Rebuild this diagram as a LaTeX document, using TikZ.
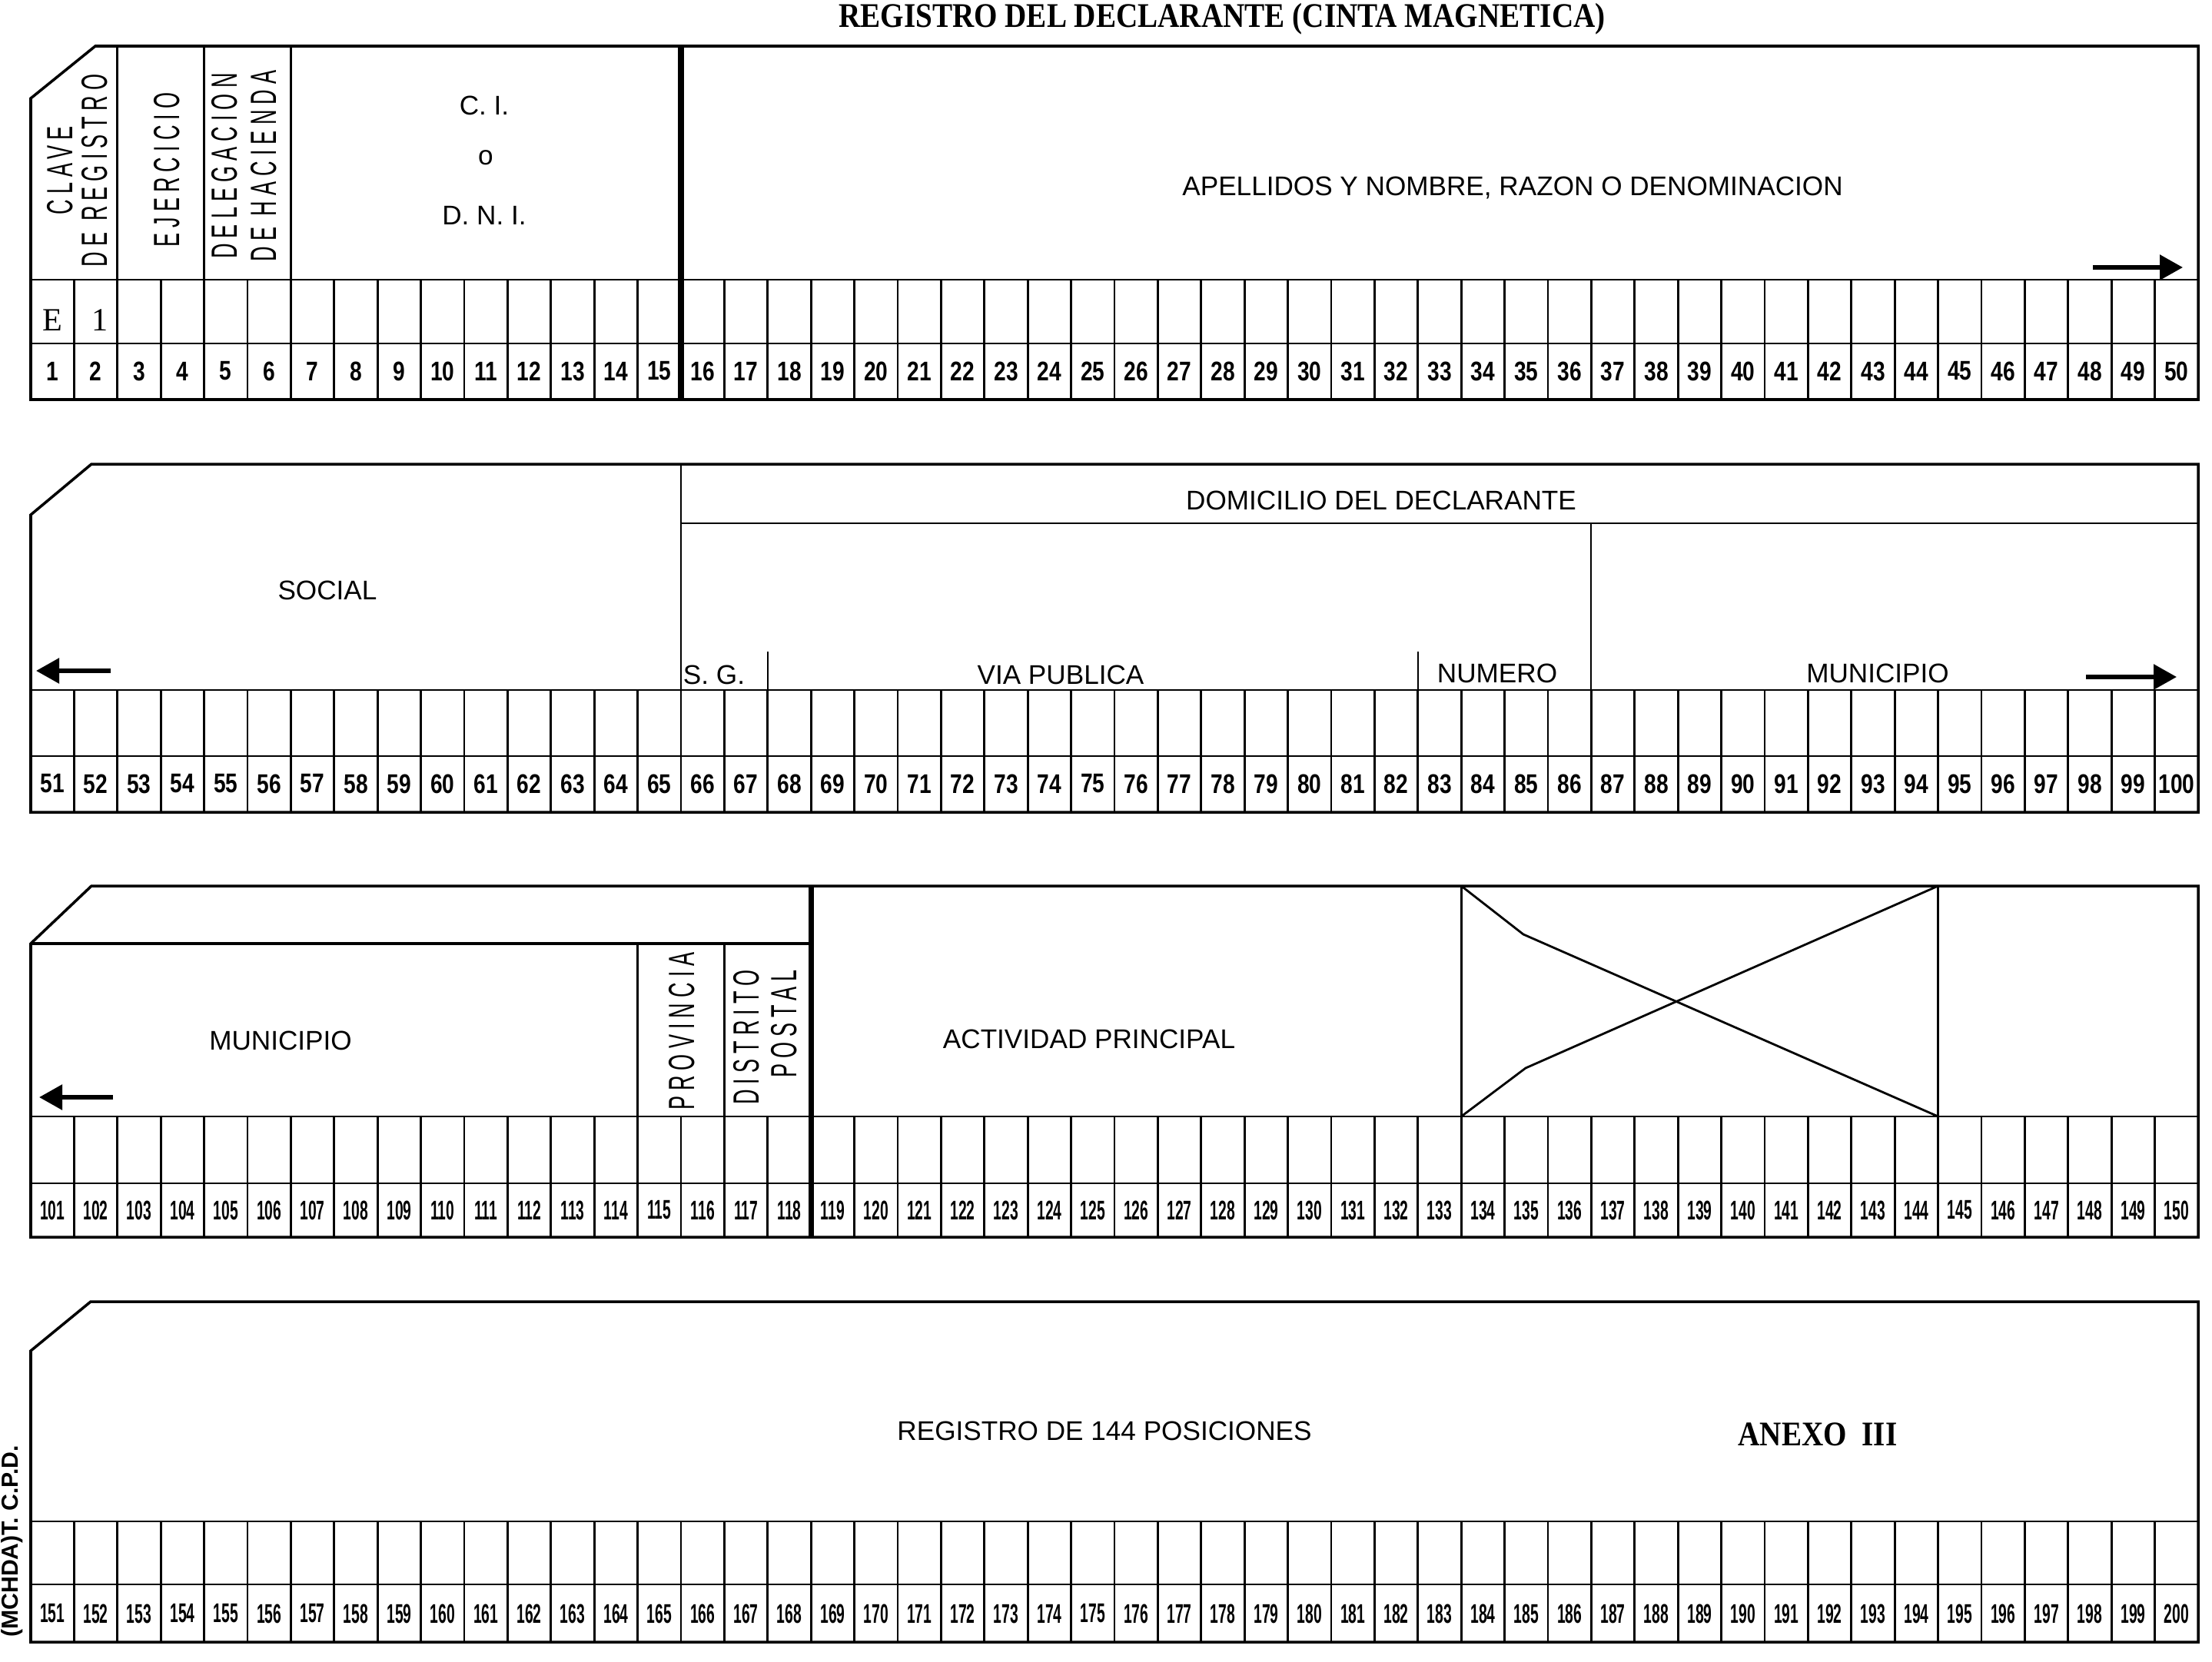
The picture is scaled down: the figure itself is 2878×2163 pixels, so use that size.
\documentclass[tikz,border=0pt]{standalone}
\usepackage{fontspec}
\setmainfont{Liberation Sans}
\newfontfamily\titlefont{Liberation Serif Bold}[FakeStretch=0.87]
\newfontfamily\typefont{Liberation Serif}
\newfontfamily\numfont{Liberation Sans Bold}[FakeStretch=0.8]
\newfontfamily\numfontc{Liberation Sans Bold}[FakeStretch=0.55]
\newfontfamily\tallfont{Liberation Sans}[FakeStretch=0.57,LetterSpace=15]
\usetikzlibrary{arrows.meta}

\begin{document}
\begin{tikzpicture}[x=0.1mm,y=-0.1mm,
  card/.style={line width=1pt},
  rule/.style={line width=0.8pt},
  heavy/.style={line width=2pt},
  label/.style={font=\fontsize{10}{12}\selectfont, inner sep=0pt},
  tall/.style={font=\tallfont\fontsize{13.5}{14.5}\selectfont, rotate=90, align=center, inner sep=0pt},
  num/.style={font=\numfont\fontsize{10}{12}\selectfont, inner sep=0pt},
  numc/.style={font=\numfontc\fontsize{10}{12}\selectfont, inner sep=0pt},
  typed/.style={font=\typefont\fontsize{12}{14}\selectfont, inner sep=0pt},
  pointer/.style={line width=1.6pt, -{Triangle[length=3mm,width=3.2mm]}}]
\useasboundingbox (0,0) rectangle (2878,2163);

\node [font=\titlefont\fontsize{12.8}{15}\selectfont, inner sep=0pt] (title) at (1590,25) {REGISTRO DEL DECLARANTE (CINTA MAGNETICA)};

\draw [card] (124,60) -- (2860,60) -- (2860,520) -- (40,520) -- (40,128) -- cycle;
\draw [rule] (40,364) -- (2860,364);
\draw [rule] (40,447) -- (2860,447);
\foreach \i in {1,...,49} \draw [rule] ({40+56.4*\i},364) -- ({40+56.4*\i},520);
\draw [rule] (152.8,60) -- (152.8,364);
\draw [rule] (265.6,60) -- (265.6,364);
\draw [rule] (378.4,60) -- (378.4,364);
\draw [heavy] (886,60) -- (886,520);
\foreach \k in {1,...,50} \node [num] (n\k) at ({40+56.4*(\k-0.5)},483) {\k};

\node [tall, font=\tallfont\fontsize{13.5}{12.8}\selectfont] (clave) at (101,222) {CLAVE\\DE REGISTRO};
\node [tall] (ejercicio) at (217,221) {EJERCICIO};
\node [tall] (delegacion) at (318,216) {DELEGACION\\DE HACIENDA};
\node [label] (ci) at (630,137) {C. I.};
\node [label] (o) at (632,205) {o};
\node [label] (dni) at (630,280) {D. N. I.};
\node [label] (apellidos) at (1968,244) {APELLIDOS Y NOMBRE, RAZON O DENOMINACION};
\node [typed] (clave1) at (68,417) {E};
\node [typed] (clave2) at (130,417) {1};
\coordinate (a1s) at (2723,348);
\coordinate (a1e) at (2840,348);
\draw [pointer] (a1s) -- (a1e);

\draw [card] (119,604) -- (2860,604) -- (2860,1057) -- (40,1057) -- (40,670) -- cycle;
\draw [rule] (886,604) -- (886,1057);
\draw [rule] (886,681) -- (2860,681);
\draw [rule] (2070,681) -- (2070,1057);
\draw [rule] (999,848) -- (999,1057);
\draw [rule] (1845,848) -- (1845,1057);
\draw [rule] (40,898) -- (2860,898);
\draw [rule] (40,984) -- (2860,984);
\foreach \i in {1,...,49} \draw [rule] ({40+56.4*\i},898) -- ({40+56.4*\i},1057);
\foreach \k in {51,...,100} \node [num] (n\k) at ({40+56.4*(\k-50.5)},1020) {\k};

\node [label] (domicilio) at (1797,651) {DOMICILIO DEL DECLARANTE};
\node [label] (social) at (426,768) {SOCIAL};
\node [label] (sg) at (929,878) {S. G.};
\node [label] (via) at (1380,878) {VIA PUBLICA};
\node [label] (numero) at (1948,876) {NUMERO};
\node [label] (municipio1) at (2443,876) {MUNICIPIO};
\coordinate (a2s) at (144,873);
\coordinate (a2e) at (47,873);
\draw [pointer] (a2s) -- (a2e);
\coordinate (a3s) at (2714,881);
\coordinate (a3e) at (2832,881);
\draw [pointer] (a3s) -- (a3e);

\draw [card] (119,1153) -- (2860,1153) -- (2860,1610) -- (40,1610) -- (40,1228) -- cycle;
\draw [card] (40,1228) -- (1055,1228);
\draw [rule] (829.6,1228) -- (829.6,1610);
\draw [rule] (942.4,1228) -- (942.4,1610);
\draw [heavy] (1055.2,1153) -- (1055.2,1610);
\draw [rule] (1901.2,1153) -- (1901.2,1610);
\draw [rule] (2521.6,1153) -- (2521.6,1610);
\draw [rule] (1901.2,1153) -- (1982,1216) -- (2521.6,1453);
\draw [rule] (1901.2,1453) -- (1985,1390) -- (2521.6,1153);
\draw [rule] (40,1453) -- (2860,1453);
\draw [rule] (40,1540) -- (2860,1540);
\foreach \i in {1,...,49} \draw [rule] ({40+56.4*\i},1453) -- ({40+56.4*\i},1610);
\foreach \k in {101,...,150} \node [numc] (n\k) at ({40+56.4*(\k-100.5)},1575) {\k};

\node [label] (municipio2) at (365,1354) {MUNICIPIO};
\node [tall] (provincia) at (887,1342) {PROVINCIA};
\node [tall, align=right, font=\tallfont\fontsize{13.5}{14}\selectfont] (distrito) at (996,1350) {DISTRITO\\POSTAL};
\node [label] (actividad) at (1417,1352) {ACTIVIDAD PRINCIPAL};
\coordinate (a4s) at (147,1428);
\coordinate (a4e) at (51,1428);
\draw [pointer] (a4s) -- (a4e);

\draw [card] (118,1694) -- (2860,1694) -- (2860,2137) -- (40,2137) -- (40,1758) -- cycle;
\draw [rule] (40,1980) -- (2860,1980);
\draw [rule] (40,2062) -- (2860,2062);
\foreach \i in {1,...,49} \draw [rule] ({40+56.4*\i},1980) -- ({40+56.4*\i},2137);
\foreach \k in {151,...,200} \node [numc] (n\k) at ({40+56.4*(\k-150.5)},2100) {\k};

\node [label] (posiciones) at (1437,1862) {REGISTRO DE 144 POSICIONES};
\node [font=\titlefont\fontsize{12.8}{15}\selectfont, inner sep=0pt] (anexo) at (2365,1867) {ANEXO\ \ III};
\node [font=\bfseries\fontsize{8.6}{10}\selectfont, rotate=90, inner sep=0pt] (imprenta) at (16,2006) {(MCHDA)T. C.P.D.};

\end{tikzpicture}
\end{document}
